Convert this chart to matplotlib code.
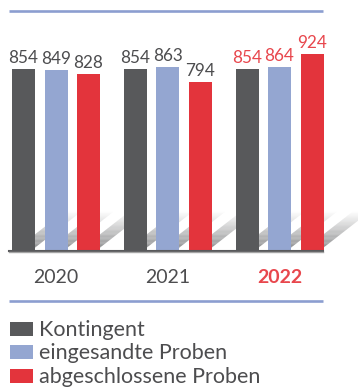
import numpy as np
import matplotlib
matplotlib.use("Agg")
import matplotlib.pyplot as plt
from matplotlib.patches import Rectangle, Polygon
from matplotlib.lines import Line2D

# ---- data ----
years = ["2020", "2021", "2022"]
series_names = ["Kontingent", "eingesandte Proben", "abgeschlossene Proben"]
kontingent = [854, 854, 854]
eingesandt = [849, 863, 864]
abgeschlossen = [828, 794, 924]

colors = ["#58595b", "#94a6d1", "#e3343c"]
text_gray = "#4d4d4f"
label_red = "#e8474d"
line_blue = "#8c9ed0"

plt.rcParams['font.family'] = ['Lato', 'DejaVu Sans']
REG = 'normal'

W, H = 358, 387
fig = plt.figure(figsize=(W / 100, H / 100), dpi=100)
ax = fig.add_axes([0, 0, 1, 1])
ax.axis('off')

# layout (pixel-based scales)
px_per_x = 111.75          # pixels per category step
px_per_y = 0.212           # pixels per value unit
first_center_px = 56.0
baseline_px = 250.0        # from top
ax.set_xlim(-first_center_px / px_per_x, (W - first_center_px) / px_per_x)
ax.set_ylim(-(H - baseline_px) / px_per_y, baseline_px / px_per_y)

bar_w = 23 / px_per_x
offsets = np.array([-32.5, 0.0, 32.5]) / px_per_x
x = np.arange(len(years))
all_series = [kontingent, eingesandt, abgeschlossen]

# ---- shadows (decorative, derived from bars) ----
ang = np.deg2rad(38)
L = 62.0   # shadow length in px along direction
N = 30
for si in range(3):
    for gi in range(len(years)):
        xc = x[gi] + offsets[si]
        xr = xc + bar_w / 2
        b0 = xr - 20 / px_per_x
        b1 = xr - 3 / px_per_x
        for k in range(N):
            t0 = L * k / N
            t1 = L * (k + 1) / N
            dx0 = t0 * np.cos(ang) / px_per_x
            dy0 = t0 * np.sin(ang) / px_per_y
            dx1 = t1 * np.cos(ang) / px_per_x
            dy1 = t1 * np.sin(ang) / px_per_y
            a = 0.78 * (1 - k / N) ** 1.1
            poly = Polygon([(b0 + dx0, dy0), (b1 + dx0, dy0), (b1 + dx1, dy1), (b0 + dx1, dy1)],
                           closed=True, facecolor="#6a6b6d", edgecolor='none', alpha=a, zorder=1)
            ax.add_patch(poly)

# ---- bars ----
for si, vals in enumerate(all_series):
    ax.bar(x + offsets[si], vals, width=bar_w, color=colors[si], zorder=3, linewidth=0)
    for gi, v in enumerate(vals):
        c = label_red if gi == len(years) - 1 else text_gray
        ax.annotate(str(v), xy=(x[gi] + offsets[si], v), xytext=(0, 6 * 0.72),
                    textcoords='offset points', ha='center', va='baseline',
                    fontsize=12.3, color=c, zorder=4, fontweight=REG)

# year labels
for gi, y in enumerate(years):
    last = gi == len(years) - 1
    ax.annotate(y, xy=(x[gi], 0), xytext=(0, -33 * 0.72), textcoords='offset points',
                ha='center', va='baseline', fontsize=14,
                color=label_red if last else text_gray,
                fontweight='bold' if last else REG)

def fx(px):
    return px / W

def fy(py):
    return 1 - py / H

# baseline
fig.add_artist(Line2D([fx(9), fx(323)], [fy(250.5), fy(250.5)], color="#58595b", lw=1.5))
fig.add_artist(Line2D([fx(9), fx(323)], [fy(252), fy(252)], color="#a5a5a5", lw=1.0))

# blue rules
for py in (11, 301):
    fig.add_artist(Line2D([fx(9), fx(323)], [fy(py), fy(py)], color=line_blue, lw=1.9,
                          solid_capstyle='butt'))

# legend
leg_y = [322, 345, 369]
for i, name in enumerate(series_names):
    fig.add_artist(Rectangle((fx(10), fy(leg_y[i] + 14)), 23 / W, 14 / H,
                             transform=fig.transFigure, facecolor=colors[i], edgecolor='none'))
    fig.text(fx(39), fy(leg_y[i] + 14), name, ha='left', va='baseline',
             fontsize=15.5, color=text_gray, fontweight=REG)

fig.savefig("out.png", dpi=100)
